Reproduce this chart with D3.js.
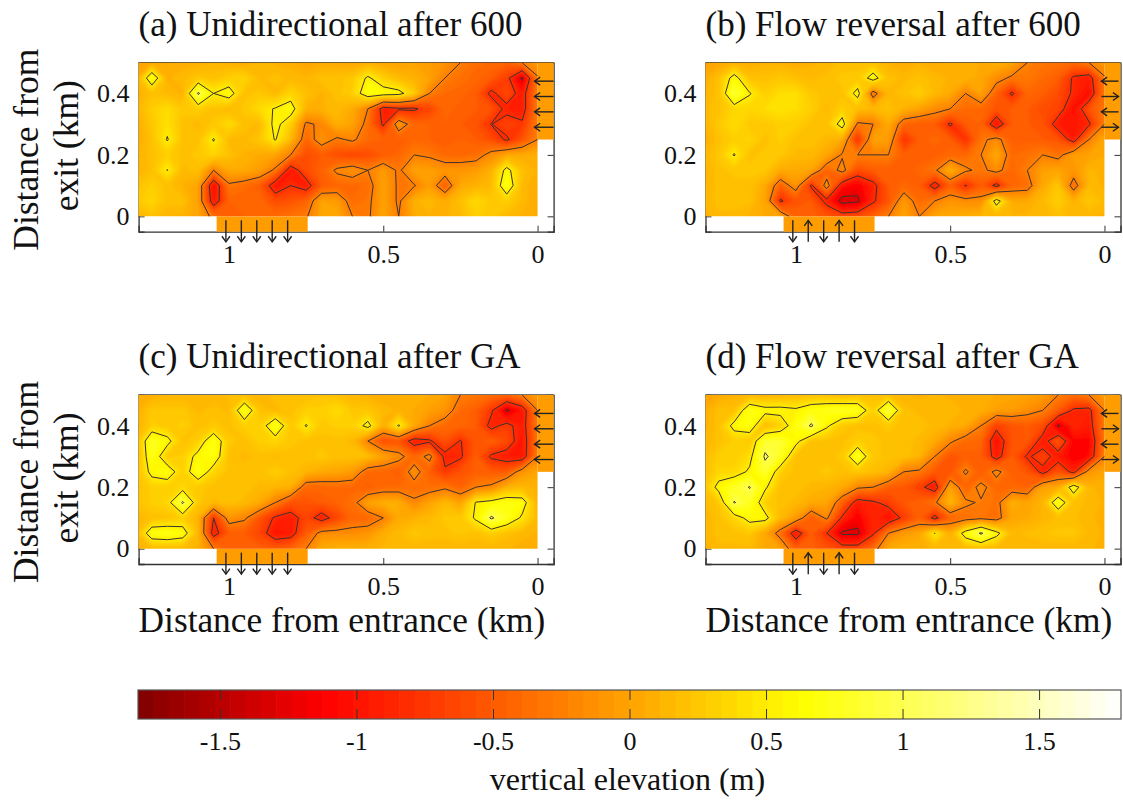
<!DOCTYPE html>
<html>
<head>
<meta charset="utf-8">
<script src="https://cdn.jsdelivr.net/npm/d3@7"></script>
<style>
    html, body { margin: 0; padding: 0; background: #fff; }
    svg { display: block; }
    text { font-family: "Liberation Serif", serif; fill: #111; }
</style>
</head>
<body>
<svg id="chart" width="1123" height="804"></svg>
<script>
// elevation in m, rows go from 0.5 km down to 0 km, columns from 1.3 km to 0 km (0.05 km steps)
const elevationA = [
    [.02,.05,.05,.08,.08,.12,.10,.05,.12,.10,.08,.02,.05,.05,.02,.08,.02,.00,.00,-.05,-.12,-.25,-.38,-.40,-.45,-.25,-.05],
    [.05,.75,.10,.15,.25,.20,.30,.35,.15,.20,.15,.12,.20,.20,.25,.55,.30,.15,.10,.00,-.25,-.36,-.42,-.50,-.70,-1.30,-.28],
    [.08,.20,.15,.10,1.05,.50,.65,.20,.25,.15,.35,.20,.10,.20,.30,.70,.65,.60,.30,-.25,-.40,-.42,-.50,-.88,-.60,-.95,-.28],
    [.10,.30,.40,.25,.30,.20,.15,.25,.40,.52,.65,.10,.10,.15,.05,-.25,-.95,-.85,-.85,-.65,-.42,-.48,-.50,-.55,-.90,-.95,-.28],
    [.05,.25,.42,.20,.15,.25,.40,.20,.15,.60,.30,-.30,-.20,.10,.00,-.35,-.85,-.05,-.40,-.45,-.45,-.50,-.55,-.81,-.65,-.75,-.28],
    [.05,.20,.52,.20,.20,.52,.15,.15,.25,.52,.15,-.42,-.10,-.30,-.20,-.40,-.45,-.50,-.42,-.45,-.50,-.45,-.50,-.60,-.85,-.55,-.25],
    [.10,.20,.30,.20,.25,.35,.20,.10,.05,.00,-.25,-.60,-.50,-.60,-.65,-.60,-.50,-.42,-.25,-.30,-.40,-.40,-.38,-.15,.05,.05,.10],
    [.08,.20,.51,.15,.20,-.25,.05,.05,-.05,-.30,-1.00,-.60,-.45,-.20,-.10,-.25,-.05,-.30,.00,-.02,-.10,-.10,-.05,.10,.60,.20,.10],
    [.20,.30,.20,.10,.00,-1.10,-.30,-.38,-.50,-1.00,-.80,-.95,-.50,-.42,-.42,-.38,.00,-.30,-.27,-.05,-.50,.05,.10,.15,.75,.15,.05],
    [.25,.35,.20,.20,-.02,-1.00,-.45,-.42,-.42,-.60,-.55,-.45,.00,-.05,-.38,-.32,.00,-.30,.10,.15,.05,.20,.38,.25,.30,.15,.05],
    [.12,.20,.12,.10,.02,-.35,-.50,-.45,-.42,-.40,-.35,-.28,.02,.05,-.25,-.30,.02,-.25,.05,.10,.10,.15,.30,.25,.15,.10,.05]
];
const elevationB = [
    [-.02,.02,.10,.08,.10,.10,.05,.10,.12,.18,.20,.20,.10,.05,.10,.05,.10,.10,.05,.10,.02,-.25,-.32,-.35,-.40,-.25,-.05],
    [.05,.20,.62,.20,.20,.25,.20,.15,.20,.25,.25,.65,.20,.15,.20,.15,.10,.10,.03,-.15,-.30,-.30,-.40,-.48,-.85,-.95,-.28],
    [.10,.20,.90,.52,.30,.40,.42,.25,.20,.20,.62,-.40,.15,.20,.30,.15,.05,-.25,.00,-.45,-.85,-.42,-.48,-.60,-.85,-1.05,-.30],
    [.15,.20,.35,.35,.40,.45,.40,.30,.15,.30,.20,.15,.20,.10,.00,-.15,-.25,-.40,-.40,-.55,-.50,-.50,-.60,-.65,-1.05,-.55,-.32],
    [.10,.25,.40,.25,.25,.30,.30,.20,.20,.65,-.30,-.25,.05,-.42,-.50,-.50,-.85,-.50,-.45,-1.05,-.50,-.50,-.55,-.95,-1.00,-.85,-.25],
    [.05,.20,.30,.35,.20,.30,.20,.20,.15,.05,-.80,.00,-.02,-.80,-.48,-.42,-.48,-.80,-.32,-.15,-.48,-.48,-.50,-.55,-.95,-.25,.05],
    [.12,.25,.52,.20,.25,.25,.15,.15,.02,-.28,-.25,-.25,-.25,-.48,-.50,-.48,-.42,-.42,-.25,.05,-.40,-.35,-.25,-.35,-.02,.00,.05],
    [.08,.20,.25,.25,.25,.05,.05,.02,-.45,-.15,-.60,-.50,-.48,-.50,-.42,-.30,.10,-.20,-.32,-.15,-.42,-.25,-.02,.02,-.10,.12,.10],
    [.10,.20,.20,.20,.05,-.45,-.10,-.85,-.10,-1.00,-1.15,-.90,-.50,-.42,-.48,-.95,-.48,-.82,-.50,-.90,-.42,-.38,.05,.25,-.40,.15,.10],
    [.12,.20,.20,.20,.02,-.85,-.55,-.50,-.90,-1.35,-1.30,-.85,-.55,-.05,-.40,-.25,-.10,-.15,-.15,.65,.05,.05,.15,.30,.10,.25,.15],
    [.08,.15,.15,.10,.05,.00,-.45,-.48,-.55,-.65,-.60,-.45,-.25,.00,-.25,.02,.05,.08,.12,.12,.12,.12,.12,.20,.12,.12,.10]
];
const elevationC = [
    [.05,.08,.12,.12,.12,.12,.18,.18,.12,.20,.20,.18,.22,.18,.12,.10,.05,.10,.10,.05,.00,-.25,-.32,-.38,-.42,-.25,-.05],
    [.08,.25,.25,.25,.15,.20,.15,.80,.20,.15,.20,.30,.30,.40,.25,.25,.15,.10,.05,-.02,-.10,-.40,-.48,-.75,-1.30,-1.00,-.25],
    [.08,.30,.25,.30,.20,.25,.20,.30,.30,.80,.25,.52,.25,.30,.30,.60,.08,.53,.05,-.25,-.40,-.42,-.50,-.90,-.70,-.95,-.28],
    [.12,.80,.60,.20,.30,.75,.25,.20,.30,.35,.25,.20,.20,.20,.15,-.25,-.60,-.55,-.95,-.85,-.55,-.82,-.52,-.45,-.60,-1.00,-.32],
    [.08,.75,.25,.30,.60,.70,.20,.15,.20,.15,.20,.20,.25,.20,.20,.18,.00,-.15,-.42,-.15,-.90,-.85,-.48,-.85,-.95,-1.00,-.25],
    [.15,.60,.70,.30,.75,.35,.20,.20,.20,.30,.20,.12,.05,.02,-.05,-.40,-.42,-.50,-.10,-.48,-.75,-.55,-.48,-.50,-.50,-.10,.02],
    [.20,.30,.30,.35,.25,.20,.20,.20,.15,.12,.10,-.42,-.42,-.40,-.42,-.48,-.40,-.40,-.38,-.38,-.30,-.45,-.25,-.20,.10,.15,.10],
    [.20,.30,.35,1.05,.25,.15,.20,.15,.05,-.25,-.55,-.55,-.50,-.45,-.35,.00,.08,.08,-.20,.00,.15,.00,.52,.60,.70,.65,.10],
    [.12,.20,.20,.30,.10,-.80,-.10,-.20,-.55,-.85,-.95,-.65,-.95,-.65,-.42,-.42,-.25,.05,.10,.15,.25,.25,.55,1.05,.75,.45,.15],
    [.15,.70,.75,.65,.15,-.95,-.50,-.50,-.65,-1.00,-.95,-.50,-.15,-.15,-.15,-.10,.08,.15,.25,.20,.20,.25,.20,.30,.20,.15,.10],
    [.08,.15,.15,.15,.10,-.25,-.48,-.48,-.48,-.50,-.42,-.25,.05,.10,.10,.10,.12,.12,.12,.12,.12,.12,.12,.12,.12,.08,.05]
];
const elevationD = [
    [.02,.05,.10,.12,.10,.12,.15,.18,.18,.12,.18,.18,.18,.12,.10,.12,.10,.10,.10,.05,.02,.00,-.05,-.25,-.38,-.25,-.05],
    [.05,.20,.20,.75,.60,.60,.55,.70,.75,.80,.75,.30,.95,.20,.15,.15,.15,.10,.08,-.02,-.05,-.15,-.25,-.50,-.85,-.90,-.25],
    [.08,.20,.60,.70,.15,.30,.70,1.05,.55,.25,.20,.20,.25,.20,.20,.15,.10,.05,-.25,-.70,-.55,-.50,-.60,-1.30,-.85,-.95,-.28],
    [.12,.20,.30,.25,.85,.85,.60,.20,.20,.20,.30,.25,.20,.20,.15,.05,-.20,-.40,-.42,-1.05,-.55,-.50,-.95,-.50,-1.10,-1.10,-.32],
    [.15,.30,.30,.40,1.05,.80,.20,.20,.20,.25,.80,.25,.20,.20,.12,-.25,-.55,-.48,-.48,-.95,-.50,-.85,-.65,-.95,-1.15,-1.05,-.25],
    [.15,.35,.35,.55,.85,.30,.20,.20,.25,.20,.25,.20,.12,-.25,-.30,-.52,-.55,-.20,-.50,-.15,-.48,-.52,-.90,-.55,-.90,-.10,.02],
    [.20,.60,.80,1.02,.55,.20,.20,.15,.12,.05,-.20,-.25,-.48,-.52,-.70,-1.00,.00,-.45,-.15,-.42,-.42,-.45,.00,.05,.70,.12,.10],
    [.15,.25,1.02,.80,.30,.20,.15,.05,.02,-.45,-.95,-.85,-.70,-.52,-.45,-.30,.15,-.20,-.28,-.35,.10,.00,.12,.75,.20,.15,.10],
    [.12,.20,.35,.60,.60,.15,-.05,-.50,-.20,-.85,-1.15,-.85,-1.05,-.72,-.45,-.90,-.45,-.38,-.32,-.38,.02,.05,.12,.18,.18,.12,.10],
    [.12,.20,.20,.25,.02,-.38,-1.00,-.50,-.80,-1.30,-1.30,-.85,-.25,-.05,.02,.51,.08,.65,1.05,.60,.15,.18,.22,.25,.25,.15,.10],
    [.08,.15,.15,.15,.05,.00,-.48,-.48,-.55,-.65,-.65,-.38,.05,.10,.10,.12,.12,.15,.15,.12,.12,.12,.12,.12,.12,.12,.10]
];

const titles = ["(a) Unidirectional after 600", "(b) Flow reversal after 600", "(c) Unidirectional after GA", "(d) Flow reversal after GA"];
const contourLevels = [-1.25, -0.8, -0.25, 0.5, 1];
const xTicks = [1, 0.5, 0];
const yTicks = [0, 0.2, 0.4];
const barTicks = [-1.5, -1, -0.5, 0, 0.5, 1, 1.5];

// where the flow goes in and out, in km, and direction of each arrow
const inletX = [1.01, 0.96, 0.91, 0.86, 0.81];
const outletY = [0.44, 0.39, 0.34, 0.29];
const inletOneWay = [1, 1, 1, 1, 1];
const inletReversal = [1, -1, 1, -1, 1];
const outletOneWay = [-1, -1, -1, -1];
const outletReversal = [-1, 1, -1, 1];
const inletExtent = [1.04, 0.745];
const outletExtent = [0.25, 0.5];
const blockValue = -0.05;

let color = d3.scaleLinear()
    .domain([-1.8, -1.12, 0.63, 1.8])
    .range(["#800000", "#ff0000", "#ffff00", "#ffffff"]);

let svg = d3.select("#chart");
let defs = svg.append("defs");
defs.append("filter").attr("id", "soft")
    .attr("x", "-5%").attr("y", "-5%").attr("width", "110%").attr("height", "110%")
    .append("feGaussianBlur").attr("stdDeviation", 1.6);

// plain number labels with a hyphen, not the long minus d3 would use
let plain = (d) => String(d);

function create_panel(id, values, title, left, top, inlet, outlet, showX, showY) {
    let width = 415, height = 169;

    let x = d3.scaleLinear().domain([1.293, -0.052]).range([0, width]);
    let y = d3.scaleLinear().domain([0.5, -0.05]).range([0, height]);

    let g = svg.append("g").attr("transform", "translate(" + left + "," + top + ")");

    // axes go first, the field covers most of the ticks
    g.append("g")
        .attr("class", "axis")
        .attr("transform", "translate(0," + height + ")")
        .call(d3.axisBottom(x).tickValues(xTicks).tickSize(-6).tickPadding(13).tickFormat(plain));
    g.append("g")
        .attr("class", "axis")
        .call(d3.axisLeft(y).tickValues(yTicks).tickSize(-6).tickPadding(9).tickFormat(plain));
    g.append("g")
        .attr("class", "axis")
        .attr("transform", "translate(" + width + ",0)")
        .call(d3.axisRight(y).tickValues(yTicks).tickSize(-6).tickFormat(""));
    g.selectAll(".axis text").style("font-size", "26px").style("font-family", '"Liberation Serif", serif');
    g.selectAll(".axis path").attr("stroke", "#333").attr("stroke-width", 1.3);
    g.selectAll(".axis line").attr("stroke", "#333");
    g.append("line").attr("x1", 0).attr("x2", width).attr("y1", 0).attr("y2", 0)
        .attr("stroke", "#444").attr("stroke-width", 1.3);

    // the flat inlet and outlet strips
    g.append("rect")
        .attr("x", x(inletExtent[0]))
        .attr("y", y(0))
        .attr("width", x(inletExtent[1]) - x(inletExtent[0]))
        .attr("height", height - y(0))
        .attr("fill", color(blockValue));
    g.append("rect")
        .attr("x", x(0))
        .attr("y", y(outletExtent[1]))
        .attr("width", width - x(0))
        .attr("height", y(outletExtent[0]) - y(outletExtent[1]))
        .attr("fill", color(blockValue));

    let clipId = "clip" + id;
    defs.append("clipPath").attr("id", clipId)
        .append("rect")
        .attr("x", 0).attr("y", 0)
        .attr("width", x(0)).attr("height", y(0));

    let nx = values[0].length, ny = values.length;
    let flat = values.flat();

    // contour grid index to km and then to pixels
    let path = d3.geoPath(d3.geoTransform({
        point: function (cx, cy) {
            this.stream.point(x(1.3 - (cx - 0.5) * 0.05), y(0.5 - (cy - 0.5) * 0.05));
        }
    }));

    let field = g.append("g").attr("clip-path", "url(#" + clipId + ")");

    let bandStep = 3.6 / 64;
    let bandLevels = d3.range(64).map((i) => -1.8 + i * bandStep);
    field.append("g")
        .attr("filter", "url(#soft)")
        .selectAll("path")
        .data(d3.contours().size([nx, ny]).thresholds(bandLevels)(flat))
        .enter().append("path")
        .attr("d", path)
        .attr("fill", (d) => color(d.value + bandStep / 2));

    field.append("g")
        .selectAll("path")
        .data(d3.contours().size([nx, ny]).thresholds(contourLevels)(flat))
        .enter().append("path")
        .attr("d", path)
        .attr("fill", "none")
        .attr("stroke", "#3a3230")
        .attr("stroke-width", 1);

    // arrows along the inlet, 1 means pointing down
    let head = 4;
    let arrows = g.append("g").attr("fill", "none").attr("stroke", "#222").attr("stroke-width", 1.4);
    inletX.forEach(function (km, i) {
        let y0 = y(-0.013), y1 = y(-0.083);
        let tip = inlet[i] > 0 ? y1 : y0;
        let sign = inlet[i] > 0 ? -1 : 1;
        arrows.append("line").attr("x1", x(km)).attr("x2", x(km)).attr("y1", y0).attr("y2", y1);
        arrows.append("path").attr("d", d3.line()([
            [x(km) - head, tip + sign * head * 1.4], [x(km), tip], [x(km) + head, tip + sign * head * 1.4]
        ]));
    });
    outletY.forEach(function (km, i) {
        let x0 = x(0) - 3, x1 = width + (outlet === outletReversal ? -2 : 0);
        let tip = outlet[i] > 0 ? x1 : x0;
        let sign = outlet[i] > 0 ? -1 : 1;
        arrows.append("line").attr("x1", x0).attr("x2", x1).attr("y1", y(km)).attr("y2", y(km));
        arrows.append("path").attr("d", d3.line()([
            [tip + sign * head * 1.4, y(km) - head], [tip, y(km)], [tip + sign * head * 1.4, y(km) + head]
        ]));
    });

    g.append("text")
        .attr("x", 0)
        .attr("y", -27)
        .style("font-size", "35px")
        .text(title);

    if (showX) {
        g.append("text")
            .attr("x", 0)
            .attr("y", 237)
            .style("font-size", "35.3px")
            .text("Distance from entrance (km)");
    }
    if (showY) {
        let yl = g.append("g").style("font-size", "35.5px").attr("text-anchor", "middle");
        yl.append("text")
            .attr("transform", "translate(-101,87) rotate(-90)")
            .text("Distance from");
        yl.append("text")
            .attr("transform", "translate(-61,83) rotate(-90)")
            .text("exit (km)");
    }
}

create_panel("a", elevationA, titles[0], 138.6, 62.7, inletOneWay, outletOneWay, false, true);
create_panel("b", elevationB, titles[1], 705.5, 62.7, inletReversal, outletReversal, false, false);
create_panel("c", elevationC, titles[2], 138.6, 395, inletOneWay, outletOneWay, true, true);
create_panel("d", elevationD, titles[3], 705.5, 395, inletReversal, outletReversal, true, false);

// colour bar along the bottom
function create_colorbar() {
    let left = 138, width = 983, top = 690, height = 29;
    let x = d3.scaleLinear().domain([-1.8, 1.8]).range([0, width]);
    let g = svg.append("g").attr("transform", "translate(" + left + "," + top + ")");

    let step = 3.6 / 64;
    g.selectAll("rect")
        .data(d3.range(64).map((i) => -1.8 + i * step))
        .enter().append("rect")
        .attr("x", (d) => x(d))
        .attr("y", 0)
        .attr("width", x(step) - x(0) + 0.6)
        .attr("height", height)
        .attr("fill", (d) => color(d + step / 2));

    g.append("rect")
        .attr("width", width).attr("height", height)
        .attr("fill", "none").attr("stroke", "#555").attr("stroke-width", 1.2);

    let bottom = g.append("g")
        .attr("transform", "translate(0," + height + ")")
        .call(d3.axisBottom(x).tickValues(barTicks).tickSize(-10).tickPadding(12.5).tickFormat(plain));
    bottom.select(".domain").remove();
    bottom.selectAll("line").attr("stroke", "#333");
    bottom.selectAll("text").style("font-size", "26px").style("font-family", '"Liberation Serif", serif');

    let upper = g.append("g")
        .call(d3.axisTop(x).tickValues(barTicks).tickSize(-10).tickFormat(""));
    upper.select(".domain").remove();
    upper.selectAll("line").attr("stroke", "#333");

    g.append("text")
        .attr("x", x(0) - 2)
        .attr("y", 100)
        .attr("text-anchor", "middle")
        .style("font-size", "32px")
        .text("vertical elevation (m)");
}

create_colorbar();
</script>
</body>
</html>
